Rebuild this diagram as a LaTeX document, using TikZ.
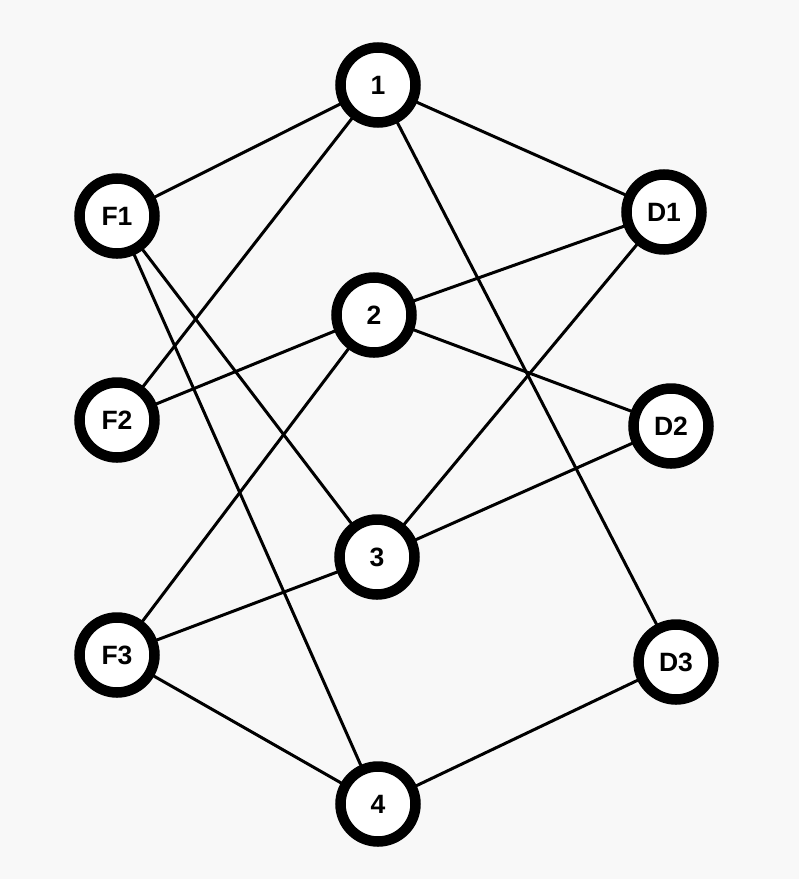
\documentclass[tikz,border=0pt]{standalone}
\usepackage{fontspec}
\setmainfont{Liberation Sans}
\usetikzlibrary{backgrounds}
\definecolor{bg}{RGB}{248,248,248}
\begin{document}
\begin{tikzpicture}[x=1pt,y=-1pt,
  vtx/.style={circle,draw=black,fill=white,line width=10.5pt,minimum size=75pt,inner sep=0pt,font=\fontsize{26.5}{28}\selectfont\bfseries},
  edge/.style={line width=3pt,black}]
\useasboundingbox (0,0) rectangle (799,879);
\node[vtx] (n1) at (378,85) {1};
\node[vtx] (F1) at (117,216) {F1};
\node[vtx] (D1) at (664,212) {D1};
\node[vtx] (n2) at (374,315) {2};
\node[vtx] (F2) at (117,420) {F2};
\node[vtx] (D2) at (671,426) {D2};
\node[vtx] (n3) at (377,557) {3};
\node[vtx] (F3) at (117,655) {F3};
\node[vtx] (D3) at (676,662) {D3};
\node[vtx] (n4) at (378,804) {4};
\begin{scope}[on background layer]
\fill[bg] (0,0) rectangle (799,879);
\foreach \a/\b in {F1/n1,n1/D1,n1/F2,n1/D3,F1/n3,F1/n4,D1/n2,D1/n3,n2/F2,n2/D2,n2/F3,D2/n3,n3/F3,F3/n4,n4/D3}
  \draw[edge] (\a.center) -- (\b.center);
\end{scope}
\end{tikzpicture}
\end{document}
